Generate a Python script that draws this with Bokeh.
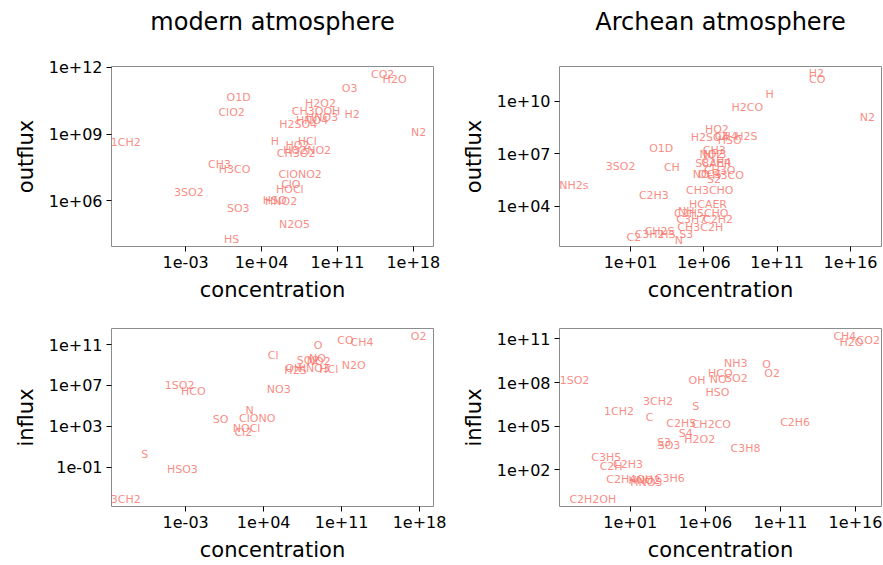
from bokeh.plotting import figure
from bokeh.models import Range1d, FixedTicker, CustomJSTickFormatter, ColumnDataSource, Title
from bokeh.layouts import column, row
from bokeh.embed import file_html
from bokeh.resources import INLINE
from bokeh.core.properties import value

# ---------------- data (log10 of concentration and flux) ----------------
# modern atmosphere, outflux
mo_species = ["CO2", "H2O", "O3", "O1D", "ClO2", "H2O2", "CH3OOH", "H2", "HNO3", "HNO4",
              "H2SO4", "N2", "1CH2", "H", "HCl", "HO2", "HO2NO2", "CH3O2", "CH3", "H3CO",
              "ClONO2", "ClO", "HOCl", "3SO2", "HSO", "HNO2", "SO3", "N2O5", "HS"]
mo_conc = [15.17, 16.27, 12.13, 1.88, 1.24, 9.43, 9.03, 12.35, 9.59, 8.67,
           7.38, 18.48, -8.52, 5.22, 8.21, 7.31, 8.21, 7.19, 0.13, 1.51,
           7.56, 6.70, 6.61, -2.70, 5.22, 5.81, 1.85, 7.04, 1.24]
mo_flux = [11.67, 11.45, 11.05, 10.65, 9.97, 10.38, 10.02, 9.90, 9.75, 9.60,
           9.45, 9.05, 8.62, 8.67, 8.65, 8.47, 8.25, 8.13, 7.62, 7.39,
           7.18, 6.75, 6.50, 6.37, 6.03, 5.96, 5.67, 4.95, 4.24]

# Archean atmosphere, outflux
ao_species = ["H2", "CO", "H", "H2CO", "N2", "HO2", "H2SO4", "CH4", "H2S", "HSO",
              "O1D", "CH3", "NH3", "NO2", "3SO2", "CH", "S8AER", "C2H4", "NO", "CH3O",
              "H3CO", "S2", "OCS", "NH2s", "CH3CHO", "C2H3", "HCAER", "C2H5CHO", "NH", "C3H7",
              "C2H2", "CH3C2H", "C2", "C3H2", "CH2S", "HS", "S3", "N"]
ao_conc = [13.68, 13.73, 10.49, 8.96, 17.16, 6.89, 6.40, 7.53, 8.90, 7.76,
           3.09, 6.71, 6.74, 6.51, 0.32, 3.82, 6.64, 6.85, 5.82, 7.08,
           7.65, 6.69, 6.40, -2.87, 6.40, 2.59, 6.28, 5.82, 4.80, 5.14,
           6.96, 5.75, 1.23, 2.30, 2.98, 3.55, 4.80, 4.30]
ao_flux = [11.60, 11.28, 10.42, 9.65, 9.08, 8.42, 7.93, 7.97, 7.97, 7.79,
           7.30, 7.21, 6.98, 6.94, 6.25, 6.21, 6.44, 6.50, 5.80, 6.07,
           5.74, 5.55, 5.80, 5.17, 4.92, 4.61, 4.08, 3.58, 3.69, 3.26,
           3.26, 2.77, 2.20, 2.40, 2.54, 2.36, 2.39, 2.05]

# modern atmosphere, influx
mi_species = ["O2", "CO", "CH4", "O", "Cl", "NO", "SO2", "NO2", "OH", "H2S",
              "HNO3", "HCl", "N2O", "1SO2", "HCO", "NO3", "N", "SO", "ClONO", "NOCl",
              "Cl2", "S", "HSO3", "3CH2"]
mi_conc = [17.91, 11.34, 12.83, 8.89, 4.86, 8.83, 7.99, 8.95, 6.70, 6.86,
           8.50, 9.84, 12.08, -3.54, -2.31, 5.36, 2.73, 0.14, 3.42, 2.47,
           2.17, -6.67, -3.30, -8.38]
mi_flux = [11.80, 11.39, 11.22, 10.90, 9.94, 9.67, 9.45, 9.35, 8.65, 8.48,
           8.65, 8.58, 8.97, 7.03, 6.45, 6.64, 4.51, 3.64, 3.74, 2.77,
           2.41, 0.25, -1.26, -4.17]

# Archean atmosphere, influx
ai_species = ["CH4", "H2O", "CO2", "NH3", "O", "O2", "HCO", "NO", "SO2", "OH",
              "1SO2", "HSO", "3CH2", "S", "1CH2", "C", "C2H6", "C2H5", "CH2CO", "S4",
              "H2O2", "S3", "SO3", "C3H8", "C3H5", "C2H3", "C2H", "C2H4OH", "C3H6", "HNO2",
              "HNO3", "C2H2OH"]
ai_conc = [15.29, 15.73, 16.85, 8.03, 10.07, 10.45, 7.00, 6.85, 8.07, 5.45,
           -2.71, 6.80, 2.85, 5.36, 0.25, 2.29, 11.98, 4.40, 6.40, 4.69,
           5.63, 3.25, 3.58, 8.67, -0.60, 0.85, -0.27, 0.96, 3.63, 1.95,
           2.07, -1.49]
ai_flux = [11.18, 10.77, 10.88, 9.34, 9.23, 8.62, 8.62, 8.21, 8.28, 8.12,
           8.12, 7.30, 6.69, 6.35, 6.01, 5.60, 5.26, 5.17, 5.15, 4.49,
           4.08, 3.90, 3.69, 3.47, 2.88, 2.38, 2.20, 1.36, 1.41, 1.25,
           1.16, -0.05]

# axis ranges (log10) and tick exponents
mo_xrange, mo_yrange, mo_xticks, mo_yticks = (-9.84, 19.86), (3.94, 12.04), [-3, 4, 11, 18], [6, 9, 12]
ao_xrange, ao_yrange, ao_xticks, ao_yticks = (-3.85, 18.12), (1.69, 12.0), [1, 6, 11, 16], [4, 7, 10]
mi_xrange, mi_yrange, mi_xticks, mi_yticks = (-9.66, 19.25), (-4.85, 12.58), [-3, 4, 11, 18], [-1, 3, 7, 11]
ai_xrange, ai_yrange, ai_xticks, ai_yticks = (-3.71, 17.73), (-0.52, 11.72), [1, 6, 11, 16], [2, 5, 8, 11]

TEXT_COLOR = "#F8766D"
FONT = "DejaVu Sans"

fmt_code = """
const e = Math.round(Math.log10(tick));
const s = e < 0 ? '-' : '+';
const a = Math.abs(e);
return '1e' + s + (a < 10 ? '0' + a : String(a));
"""


def make_panel(species, conc, flux, xr, yr, xt, yt, ylabel, title, fw, fh, mbl, mbr, mbt, mbb):
    p = figure(frame_width=fw, frame_height=fh,
               x_axis_type="log", y_axis_type="log",
               x_range=Range1d(10 ** xr[0], 10 ** xr[1]),
               y_range=Range1d(10 ** yr[0], 10 ** yr[1]),
               output_backend="svg", toolbar_location=None,
               min_border_left=mbl, min_border_right=mbr,
               min_border_top=mbt, min_border_bottom=mbb,
               background_fill_color="white", border_fill_color="white")
    src = ColumnDataSource(dict(x=[10 ** v for v in conc], y=[10 ** v for v in flux], t=species))
    p.text(x="x", y="y", text="t", source=src, text_align="center", text_baseline="middle",
           text_font_size="11px", text_color=TEXT_COLOR, text_alpha=0.85, text_font=value(FONT))
    p.xgrid.visible = False
    p.ygrid.visible = False
    p.outline_line_color = "#8c8c8c"
    p.outline_line_width = 1
    p.xaxis.ticker = FixedTicker(ticks=[10.0 ** k for k in xt], minor_ticks=[])
    p.yaxis.ticker = FixedTicker(ticks=[10.0 ** k for k in yt], minor_ticks=[])
    for ax in (p.xaxis[0], p.yaxis[0]):
        ax.formatter = CustomJSTickFormatter(code=fmt_code)
        ax.axis_line_color = None
        ax.major_tick_line_color = "black"
        ax.major_tick_out = 5
        ax.major_tick_in = 0
        ax.minor_tick_line_color = None
        ax.major_label_text_font = FONT
        ax.major_label_text_font_size = "16px"
        ax.major_label_text_color = "black"
        ax.major_label_standoff = 4
        ax.axis_label_text_font = FONT
        ax.axis_label_text_font_size = "21px"
        ax.axis_label_text_font_style = "normal"
        ax.axis_label_text_color = "black"
    p.xaxis.axis_label_standoff = 7
    p.yaxis.axis_label_standoff = 8
    p.xaxis.axis_label = "concentration"
    p.yaxis.axis_label = ylabel
    if title:
        # trailing blank line lifts the column title away from the frame
        p.title.text = title + "\n "
        p.title.align = "center"
        p.title.text_font = FONT
        p.title.text_font_size = "24px"
        p.title.text_font_style = "normal"
        p.title.text_color = "black"
        p.title.standoff = 6
    return p


p1 = make_panel(mo_species, mo_conc, mo_flux, mo_xrange, mo_yrange, mo_xticks, mo_yticks,
                "outflux", "modern atmosphere", 322, 180, 111, 25, 66, 60)
p2 = make_panel(ao_species, ao_conc, ao_flux, ao_xrange, ao_yrange, ao_xticks, ao_yticks,
                "outflux", "Archean atmosphere", 322, 180, 99, 4, 66, 60)
p3 = make_panel(mi_species, mi_conc, mi_flux, mi_xrange, mi_yrange, mi_xticks, mi_yticks,
                "influx", None, 322, 178, 111, 25, 22, 59)
p4 = make_panel(ai_species, ai_conc, ai_flux, ai_xrange, ai_yrange, ai_xticks, ai_yticks,
                "influx", None, 322, 178, 99, 4, 22, 59)

layout = column(row(p1, p2), row(p3, p4))

with open("out.html", "w") as f:
    f.write(file_html(layout, INLINE))
